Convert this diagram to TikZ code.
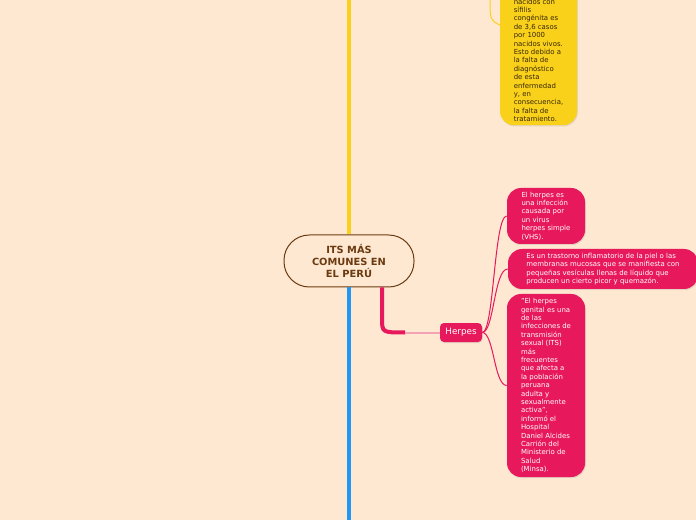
\documentclass[tikz,border=0pt]{standalone}
\usepackage{fontspec}
\setmainfont{DejaVu Sans}
\usetikzlibrary{shadows}
\definecolor{bgcol}{RGB}{254,232,209}
\definecolor{ycol}{RGB}{249,209,27}
\definecolor{bcol}{RGB}{33,150,243}
\definecolor{pcol}{RGB}{232,24,93}
\definecolor{plcol}{RGB}{244,163,181}
\definecolor{brcol}{RGB}{107,58,16}
\definecolor{ytext}{RGB}{55,38,8}
\begin{document}
\begin{tikzpicture}[x=0.75pt,y=0.75pt,yscale=-1,
  card/.style={rounded corners=10.5pt, align=left, inner sep=0pt,
    font=\fontsize{5.2}{6.3}\selectfont,
    drop shadow={shadow xshift=0.6pt,shadow yshift=-0.9pt,opacity=0.2}},
  pinkcard/.style={card, fill=pcol, text=white},
  yellowcard/.style={card, fill=ycol, text=ytext}]
%set diagram size 696 x 520
\useasboundingbox (0,0) rectangle (696,520);
\clip (0,0) rectangle (696,520);
\fill [bgcol] (0,0) rectangle (696,520);

% Main Node
\node [draw=brcol, line width=0.75pt, fill=bgcol, text=brcol, rounded corners=19pt,
  minimum width=97.5pt, minimum height=39pt, align=center,
  font=\fontsize{7.4}{9}\selectfont\bfseries] (its) at (349,261) {ITS MÁS\\COMUNES EN\\EL PERÚ};
\coordinate (ytop) at (349,0);
\coordinate (bbot) at (349,520);

%Straight Lines
\draw [ycol, line width=3pt] (its.north) -- (ytop);
%Straight Lines
\draw [bcol, line width=3pt] (its.south) -- (bbot);

% Tag Node
\node [pinkcard, rounded corners=3pt, minimum width=31.5pt, minimum height=14.25pt,
  font=\fontsize{6.6}{8}\selectfont] (herpes) at (461,332.5) {Herpes};

% Text Node
\node [pinkcard, minimum width=58.5pt, minimum height=42pt] (hdef) at (546,216)
  {El herpes es\\una infección\\causada por\\un virus\\herpes simple\\(VHS).};
% Text Node
\node [pinkcard, minimum width=142.5pt, minimum height=30pt] (hdesc) at (603,269)
  {Es un trastorno inflamatorio de la piel o las\\membranas mucosas que se manifiesta con\\pequeñas vesículas llenas de líquido que\\producen un cierto picor y quemazón.};
% Text Node
\node [pinkcard, minimum width=58.5pt, minimum height=137.25pt] (hcita) at (546,385.5)
  {"El herpes\\genital es una\\de las\\infecciones de\\transmisión\\sexual (ITS)\\más\\frecuentes\\que afecta a\\la población\\peruana\\adulta y\\sexualmente\\activa",\\informó el\\Hospital\\Daniel Alcides\\Carrión del\\Ministerio de\\Salud\\(Minsa).};
% Text Node
\node [yellowcard, minimum width=57.75pt, inner ysep=1pt, text height=105pt, text depth=1.6pt, anchor=south] (sifilis) at (538.5,125.5)
  {nacidos con\\sífilis\\congénita es\\de 3,6 casos\\por 1000\\nacidos vivos.\\Esto debido a\\la falta de\\diagnóstico\\de esta\\enfermedad\\y, en\\consecuencia,\\la falta de\\tratamiento.};

%Curve Lines
\coordinate (ybr) at (490,-2);
\draw [ycol, line width=0.75pt] (ybr) .. controls (490,20) .. (sifilis.west |- 0,25);

%Curve Lines
\coordinate (pbend) at (382,318);
\coordinate (pturn) at (405,332.5);
\draw [pcol, line width=3pt] (its.south -| pbend) -- (pbend) .. controls (382,332.5) .. (pturn);
\draw [plcol, line width=1.5pt] (pturn) -- (herpes.west);

%Curve Lines
\draw [pcol, line width=0.75pt] (herpes.east) .. controls (494,332.5) and (494,216) .. (hdef.west);
\draw [pcol, line width=0.75pt] (herpes.east) .. controls (494,332.5) and (494,269) .. (hdesc.west);
\draw [pcol, line width=0.75pt] (herpes.east) .. controls (494,332.5) and (494,385.5) .. (hcita.west);
\end{tikzpicture}
\end{document}
